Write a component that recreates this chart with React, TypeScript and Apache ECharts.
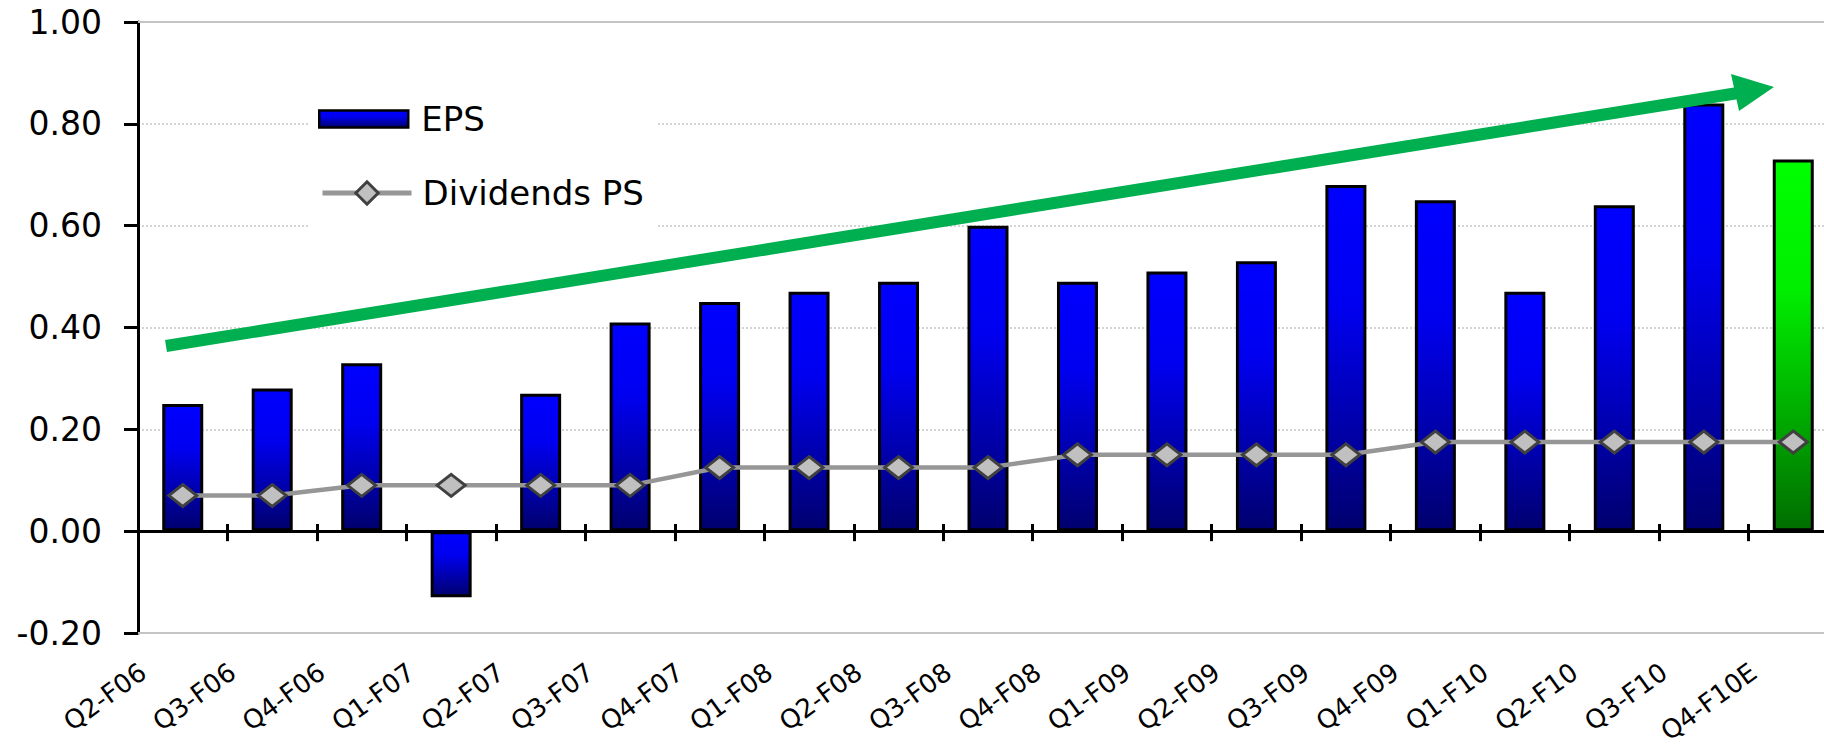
import React, { useEffect, useRef } from "react";
import * as echarts from "echarts";

const categories = [
  "Q2-F06", "Q3-F06", "Q4-F06", "Q1-F07", "Q2-F07", "Q3-F07", "Q4-F07",
  "Q1-F08", "Q2-F08", "Q3-F08", "Q4-F08", "Q1-F09", "Q2-F09", "Q3-F09",
  "Q4-F09", "Q1-F10", "Q2-F10", "Q3-F10", "Q4-F10E",
];
const eps = [
  0.25, 0.28, 0.33, -0.13, 0.27, 0.41, 0.45, 0.47, 0.49, 0.6, 0.49, 0.51,
  0.53, 0.68, 0.65, 0.47, 0.64, 0.84, 0.73,
];
const dividendsPS = [
  0.07, 0.07, 0.09, 0.09, 0.09, 0.09, 0.125, 0.125, 0.125, 0.125, 0.15, 0.15,
  0.15, 0.15, 0.175, 0.175, 0.175, 0.175, 0.175,
];
const estimateCategory = "Q4-F10E";
const yTicks = { min: -0.2, max: 1.0, step: 0.2 };

const FONT = "DejaVu Sans";

export default function App() {
  const ref = useRef<HTMLDivElement>(null);

  useEffect(() => {
    document.body.style.margin = "0";
    if (!ref.current) return;
    const chart = echarts.init(ref.current, null, { renderer: "svg" });

    const blueGrad = new echarts.graphic.LinearGradient(0, 0, 0, 1, [
      { offset: 0, color: "#0000FF" },
      { offset: 0.35, color: "#0000F0" },
      { offset: 1, color: "#00006E" },
    ]);
    const greenGrad = new echarts.graphic.LinearGradient(0, 0, 0, 1, [
      { offset: 0, color: "#00FF00" },
      { offset: 0.35, color: "#00EE00" },
      { offset: 1, color: "#006E00" },
    ]);

    const epsData = eps.map((v, i) =>
      categories[i] === estimateCategory
        ? { value: v, itemStyle: { color: greenGrad } }
        : v
    );

    const gridBase = { top: 22, height: 611, width: 1700, containLabel: false, outerBoundsMode: "none" };

    chart.setOption({
      animation: false,
      backgroundColor: "#ffffff",
      grid: [
        { ...gridBase, left: 138 },
        { ...gridBase, left: 143 },
      ],
      legend: [
        {
          data: ["EPS"],
          left: 318,
          top: 102,
          orient: "vertical",
          padding: 0,
          icon: "rect",
          itemWidth: 89,
          itemHeight: 17,
          selectedMode: false,
          itemStyle: { borderColor: "#000", borderWidth: 2.5 },
          textStyle: { fontFamily: FONT, fontSize: 34, color: "#000", lineHeight: 32, padding: [0, 0, 0, 8] },
        },
        {
          data: ["Dividends PS"],
          left: 320,
          top: 176,
          orient: "vertical",
          padding: 0,
          itemWidth: 89,
          itemHeight: 28,
          selectedMode: false,
          lineStyle: { color: "#969696", width: 5 },
          itemStyle: { color: "#C0C0C0", borderColor: "#404040", borderWidth: 3 },
          textStyle: { fontFamily: FONT, fontSize: 34, color: "#000", lineHeight: 32, padding: [0, 0, 0, 6] },
        },
      ],
      xAxis: [
        {
          type: "category",
          gridIndex: 0,
          data: categories,
          position: "bottom",
          axisLine: { show: true, onZero: true, lineStyle: { color: "#000", width: 3 } },
          axisTick: { show: true, interval: 0, length: 10, lineStyle: { color: "#000", width: 3 } },
          axisLabel: { show: false },
          splitLine: { show: false },
        },
        {
          type: "category",
          gridIndex: 1,
          data: [...categories, ""],
          boundaryGap: false,
          axisLine: { show: false, onZero: false },
          axisTick: { show: false },
          splitLine: { show: false },
          axisLabel: {
            interval: 0,
            rotate: 36,
            margin: 36,
            fontFamily: FONT,
            fontSize: 26,
            color: "#000",
          },
        },
        {
          type: "category",
          gridIndex: 0,
          data: categories,
          position: "top",
          offset: -510,
          axisLine: { show: false, onZero: false },
          axisTick: { show: true, interval: 0, length: 8, lineStyle: { color: "#000", width: 3 } },
          axisLabel: { show: false },
          splitLine: { show: false },
        },
      ],
      yAxis: [
        {
          type: "value",
          gridIndex: 0,
          min: yTicks.min,
          max: yTicks.max,
          interval: yTicks.step,
          axisLine: { show: true, lineStyle: { color: "#000", width: 3 } },
          axisTick: { show: true, length: 14, lineStyle: { color: "#000", width: 3 } },
          axisLabel: {
            margin: 36,
            fontFamily: FONT,
            fontSize: 33,
            color: "#000",
            formatter: (v: number) => v.toFixed(2),
          },
          splitLine: { show: true, lineStyle: { color: "#d4d4d4", width: 2, type: [2, 2] } },
        },
        {
          type: "value",
          gridIndex: 1,
          min: yTicks.min,
          max: yTicks.max,
          interval: yTicks.step,
          show: false,
        },
      ],
      series: [
        {
          name: "EPS",
          type: "bar",
          xAxisIndex: 0,
          yAxisIndex: 0,
          data: epsData,
          barWidth: 41,
          itemStyle: { color: blueGrad, borderColor: "#000", borderWidth: 3 },
          markLine: {
            silent: true,
            symbol: "none",
            label: { show: false },
            lineStyle: { color: "#c4c4c4", width: 2, type: "solid" },
            data: [{ yAxis: yTicks.max }, { yAxis: yTicks.min }],
          },
        },
        {
          name: "Dividends PS",
          type: "line",
          xAxisIndex: 0,
          yAxisIndex: 0,
          data: dividendsPS,
          symbol: "diamond",
          symbolSize: [28, 22],
          lineStyle: { color: "#969696", width: 4.5 },
          itemStyle: { color: "#C0C0C0", borderColor: "#404040", borderWidth: 3 },
          z: 3,
        },
      ],
      graphic: [
        {
          type: "rect",
          z: 1,
          silent: true,
          shape: { x: 308, y: 84, width: 348, height: 152 },
          style: { fill: "#ffffff" },
        },
        {
          type: "line",
          z: 10,
          silent: true,
          shape: { x1: 166, y1: 346, x2: 1738, y2: 93 },
          style: { stroke: "#00B050", lineWidth: 12 },
        },
        {
          type: "polygon",
          z: 10,
          silent: true,
          shape: { points: [[1731, 74], [1774, 87], [1739, 111]] },
          style: { fill: "#00B050" },
        },
      ],
    });

    return () => chart.dispose();
  }, []);

  return <div ref={ref} style={{ width: 1824, height: 753 }} />;
}
